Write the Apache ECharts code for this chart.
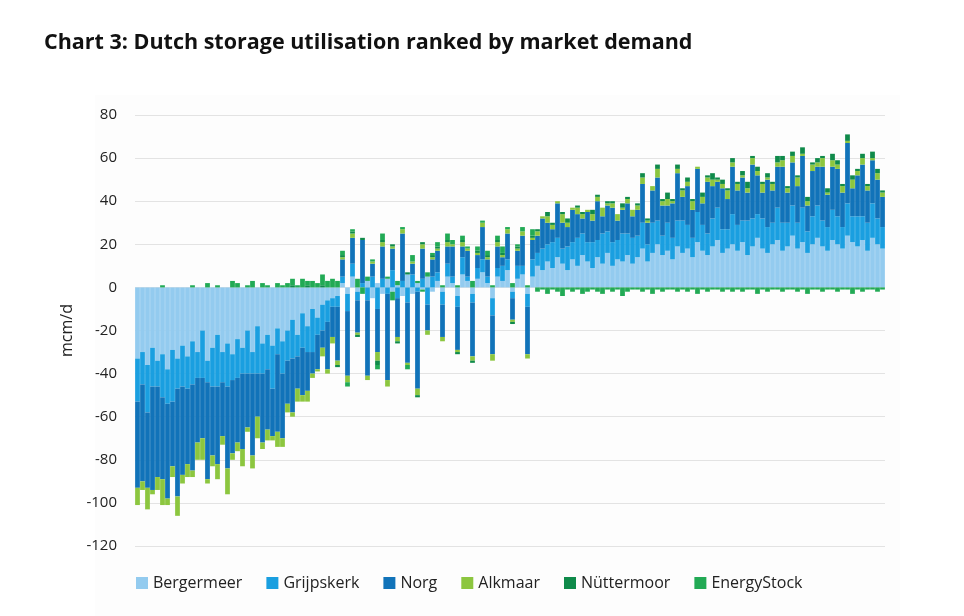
<!DOCTYPE html>
<html>
<head>
<meta charset="utf-8">
<script src="https://cdn.jsdelivr.net/npm/echarts@6/dist/echarts.min.js"></script>
<style>
  body { margin: 0; background: #fff; }
  #chart { width: 964px; height: 616px; }
</style>
</head>
<body>
<div id="chart"></div>
<script>
// values, left to right (ranked by market demand)
var bergermeer = [].concat(
	[-33,-30,-36,-28,-34,-31,-38,-29,-33,-27],
	[-32,-25,-30,-20,-34,-28,-22,-30,-26,-31],
	[-24,-28,-20,-30,-18,-26,-22,-27,-19,-25],
	[-20,-15,-22,-12,-18,-10,-14,-8,-6,-5],
	[-4,2,-3,5,-2,0,3,-5,2,-3, 4,-2,1,-4,6,-3,2,-1,5,-2],
	[3,-2,5,2,-4,6,3,-3,4,7, 2,-5,5,3,8,-2,4,6,-3,5],
	[10,8,12,9,14,11,8,13,10,15, 12,9,14,11,16,10,13,12,15,11],
	[14,18,12,16,20,15,17,13,19,16, 18,14,21,17,15,19,22,16,18,20, 17,21,15,19,23,18,16,20,22,17, 19,24,18,21,16,20,23,19,17,22, 20,18,24,21,19,22,17,23,20,18]
);
var grijpskerk = [].concat(
	[-20,-15,-22,-18,-12,-20,-16,-24,-14,-19],
	[-15,-20,-12,-22,-10,-18,-24,-14,-20,-12],
	[-18,-12,-20,-10,-22,-14,-16,-20,-12,-15],
	[-14,-18,-10,-16,-12,-20,-8,-12,-10,-4],
	[-5,3,-8,6,-4,2,-6,5,-10,4, -3,8,-5,3,-7,6,-2,4,-8,5],
	[4,-6,6,3,-5,8,2,-4,5,6, 3,-8,4,7,5,-3,6,4,-6,8],
	[6,10,8,12,9,7,11,8,13,10, 9,12,8,14,10,11,9,13,10,12],
	[10,12,8,14,11,9,13,10,12,15, 11,9,14,12,10,13,15,11,9,14, 12,10,16,13,11,14,12,10,15,13, 11,14,12,16,10,13,15,12,11,14, 13,10,15,12,14,11,13,16,12,10]
);
var norg = [].concat(
	[-40,-45,-35,-48,-42,-38,-44,-30,-50,-41],
	[-35,-40,-30,-28,-45,-32,-36,-25,-38,-34],
	[-30,-35,-25,-38,-20,-32,-28,-22,-36,-30],
	[-20,-25,-15,-22,-18,-10,-16,-8,-22,-14],
	[-25,8,-30,12,-15,20,-35,6,-20,15, -40,10,-18,22,-28,5,-45,14,-12,8],
	[10,-15,8,14,-20,5,12,-25,6,15, 8,-18,10,4,12,-10,7,14,-22,9],
	[8,14,10,6,16,12,9,15,11,7, 14,10,18,8,12,16,9,11,14,10],
	[12,18,10,15,20,14,8,16,22,11, 18,13,20,10,24,15,12,19,14,22, 16,20,13,25,18,12,22,15,19,26, 14,20,17,24,12,21,18,25,15,20, 22,16,28,13,19,24,15,20,18,14]
);
var alkmaar = [].concat(
	[-8,-4,-10,-2,-6,-12,-3,-5,-9,-4],
	[-6,-3,-8,-10,-2,-5,-7,-4,-12,-3],
	[-4,-8,-2,-6,-10,-3,-5,-2,-7,-4],
	[-4,-2,-6,-3,-5,-2,-1,-4,-2,-3],
	[-2,1,-3,2,-1,0,-2,1,-4,2, -3,1,-2,2,-1,1,-3,2,-2,1],
	[1,-2,2,1,-1,2,1,-2,1,2, 1,-3,2,1,2,-1,1,2,-2,1],
	[2,1,3,2,1,4,2,1,3,2, 1,3,2,4,1,2,3,1,2,3],
	[2,3,1,2,4,2,3,1,2,3, 2,4,1,3,2,3,1,2,4,2, 3,1,2,3,2,4,1,3,2,3, 2,3,4,1,2,3,2,4,1,3, 2,3,1,4,2,3,2,1,3,2]
);
var nuttermoor = [].concat(
	[0,0,0,0,0,0,0,0,0,0],
	[0,0,0,0,0,0,0,0,0,0],
	[0,0,0,0,0,0,0,0,0,0],
	[0,1,0,0,1,0,0,1,0,0],
	[-1,1,0,1,-1,1,0,0,-2,1, 0,1,-1,0,1,0,-1,1,0,1],
	[1,0,1,0,-1,1,0,-1,1,0, 1,0,1,1,0,-1,1,0,0,1],
	[1,0,2,1,0,1,2,0,1,1, 0,2,1,0,1,1,0,2,1,0],
	[1,2,1,0,2,1,3,1,2,1, 2,1,0,2,1,3,1,2,1,2, 1,2,3,1,2,1,2,1,3,2, 1,2,1,3,2,1,2,1,2,3, 2,1,3,2,1,2,1,3,2,1]
);
var energyStock = [].concat(
	[0,0,0,0,0,1,0,0,0,0],
	[0,1,0,0,2,0,1,0,0,3],
	[2,0,1,3,0,2,1,0,2,1],
	[2,3,1,4,2,3,2,5,3,4],
	[3,2,-2,1,4,-3,2,1,-2,3, 1,-4,2,1,-2,3,1,-1,2,1],
	[2,1,3,2,1,2,1,3,2,1, 2,1,2,3,1,2,1,2,1,3],
	[-2,-1,-3,-1,-2,-4,-1,-2,-1,-3, -2,-1,-2,-3,-1,-2,-1,-4,-2,-1],
	[-1,-2,-1,-3,-1,-2,-1,-1,-2,-1, -2,-1,-3,-1,-2,-1,-1,-2,-1,-2, -1,-2,-1,-1,-3,-1,-2,-1,-1,-2, -1,-1,-2,-1,-3,-1,-1,-2,-1,-1, -2,-1,-1,-3,-1,-2,-1,-1,-2,-1]
);
var seriesNames = ['Bergermeer', 'Grijpskerk', 'Norg', 'Alkmaar', 'Nüttermoor', 'EnergyStock'];
var seriesColors = ['#93cbef', '#1a9fe0', '#1173b9', '#8cc63f', '#0f8a4a', '#22aa55'];
var yTicks = [-120, -100, -80, -60, -40, -20, 0, 20, 40, 60, 80];

var days = [];
for (var i = 0; i < bergermeer.length; i++) {
	days.push(i + 1);
}

var chart = echarts.init(document.getElementById('chart'));
var allData = [bergermeer, grijpskerk, norg, alkmaar, nuttermoor, energyStock];
var series = [];
for (var s = 0; s < seriesNames.length; s++) {
	series.push({
		name: seriesNames[s],
		type: 'bar',
		stack: 'total',
		barCategoryGap: '5%',
		itemStyle: { color: seriesColors[s] },
		data: allData[s]
	});
}

chart.setOption({
	backgroundColor: '#ffffff',
	animation: false,
	textStyle: { fontFamily: 'Open Sans' },
	graphic: [{
		type: 'rect',
		z: -10,
		shape: { x: 95, y: 95, width: 805, height: 521 },
		style: { fill: '#fdfdfd' }
	}],
	title: {
		text: 'Chart 3: Dutch storage utilisation ranked by market demand',
		left: 39,
		top: 27,
		textStyle: { fontSize: 21.5, fontWeight: 'bold', color: '#111', fontFamily: 'Open Sans' }
	},
	legend: {
		data: seriesNames,
		left: 131,
		top: 570,
		icon: 'rect',
		itemWidth: 12,
		itemHeight: 12,
		itemGap: 24,
		textStyle: { fontSize: 16, color: '#222' }
	},
	grid: { left: 135, right: 79, top: 115, bottom: 70 },
	xAxis: {
		type: 'category',
		data: days,
		axisLine: { show: false },
		axisTick: { show: false },
		axisLabel: { show: false }
	},
	yAxis: {
		type: 'value',
		min: yTicks[0],
		max: yTicks[yTicks.length - 1],
		interval: 20,
		name: 'mcm/d',
		nameLocation: 'middle',
		nameGap: 60,
		nameTextStyle: { fontSize: 16, color: '#222' },
		axisLabel: { fontSize: 15, color: '#222', margin: 18 },
		splitLine: { lineStyle: { color: '#e3e3e3', width: 1 } }
	},
	series: series
});
</script>
</body>
</html>
